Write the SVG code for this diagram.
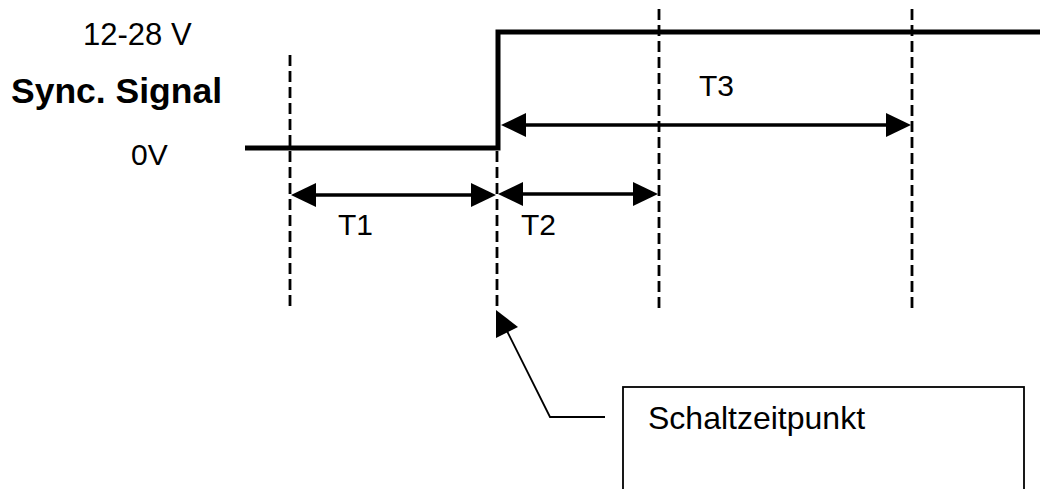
<svg xmlns="http://www.w3.org/2000/svg" width="1040" height="489" viewBox="0 0 1040 489">
<style>
.lbl{font-family:"Liberation Sans",Arial,sans-serif;fill:#000}
.sig{fill:none;stroke:#000;stroke-width:5;stroke-linejoin:miter}
.dash{stroke:#000;stroke-width:2.8;stroke-dasharray:11 5;fill:none}
.dim{stroke:#000;stroke-width:3.5;fill:none}
.call{stroke:#000;stroke-width:1.8;fill:none}
</style>
<defs>
<marker id="ah" markerUnits="userSpaceOnUse" markerWidth="26" markerHeight="26" refX="1" refY="12" orient="auto-start-reverse" viewBox="0 0 26 24">
<path d="M0,0 L25,12 L0,24 Z" fill="#000"/>
</marker>
</defs>
<rect width="1040" height="489" fill="#fff"/>
<g id="labels">
<text class="lbl" x="83" y="45" font-size="31">12-28 V</text>
<text class="lbl" x="11" y="103" font-size="35.5" font-weight="bold">Sync. Signal</text>
<text class="lbl" x="131" y="165" font-size="30">0V</text>
</g>
<g id="signal">
<path class="sig" d="M245,148 H498 V32 H1040"/>
</g>
<g id="markers">
<line class="dash" x1="290" y1="55" x2="290" y2="310"/>
<line class="dash" x1="497" y1="151" x2="497" y2="310"/>
<line class="dash" x1="659" y1="9" x2="659" y2="310"/>
<line class="dash" x1="912" y1="9" x2="912" y2="310"/>
</g>
<g id="connectors">
<line class="dim" x1="315" y1="195" x2="472" y2="195" marker-start="url(#ah)" marker-end="url(#ah)"/>
<line class="dim" x1="522" y1="194" x2="634" y2="194" marker-start="url(#ah)" marker-end="url(#ah)"/>
<line class="dim" x1="525" y1="125" x2="887" y2="125" stroke-width="3" marker-start="url(#ah)" marker-end="url(#ah)"/>
<path class="call" d="M605,417 H550 L507,331"/>
<path d="M496,310 L496,338 L518,327 Z" fill="#000"/>
</g>
<g id="T1"><text class="lbl" x="338" y="235" font-size="30">T1</text></g>
<g id="T2"><text class="lbl" x="521" y="235" font-size="30">T2</text></g>
<g id="T3"><text class="lbl" x="699" y="96" font-size="30">T3</text></g>
<g id="callout">
<rect x="623" y="387" width="401" height="130" fill="#fff" stroke="#000" stroke-width="1.8"/>
<text class="lbl" x="648" y="429" font-size="32">Schaltzeitpunkt</text>
</g>
</svg>
